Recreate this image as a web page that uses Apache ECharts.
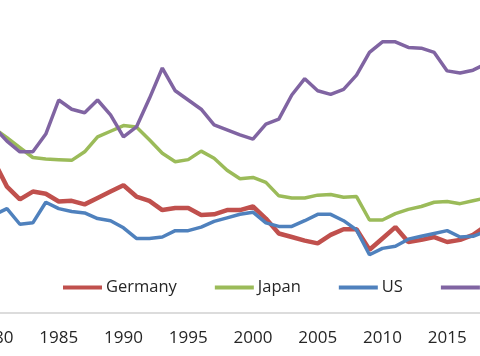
<!DOCTYPE html>
<html>
<head>
<meta charset="utf-8">
<script src="https://cdn.jsdelivr.net/npm/echarts@6/dist/echarts.min.js"></script>
<style>html,body{margin:0;padding:0;background:#fff}#c{width:480px;height:356px}</style>
</head>
<body>
<div id="c"></div>
<script>
const years = [];
for (let y = 1980; y <= 2018; y++) years.push(String(y));

const germany = [31.4,27.8,26.0,27.1,26.8,25.7,25.8,25.3,26.2,27.1,28.0,26.4,25.8,24.5,24.8,24.8,23.8,23.9,24.5,24.5,25.0,23.3,21.2,20.7,20.2,19.8,21.0,21.8,21.8,18.9,20.5,22.1,20.0,20.3,20.7,20.0,20.3,21.0,22.3];
const japan = [36.0,34.7,33.3,31.9,31.7,31.6,31.5,32.7,34.8,35.6,36.4,36.2,34.4,32.5,31.3,31.6,32.8,31.8,30.1,28.9,29.1,28.4,26.5,26.2,26.2,26.6,26.7,26.3,26.4,23.1,23.1,24.0,24.6,25.0,25.6,25.7,25.4,25.8,26.2];
const us = [23.8,24.7,22.5,22.7,25.6,24.7,24.3,24.1,23.3,23.0,22.0,20.5,20.5,20.7,21.6,21.6,22.1,22.9,23.4,23.9,24.2,22.7,22.2,22.2,23.0,23.9,23.9,23.0,21.7,18.2,19.1,19.4,20.4,20.8,21.2,21.6,20.7,20.8,21.5];
const china = [36.2,34.2,32.7,32.7,35.2,40.0,38.7,38.2,40.0,37.9,34.8,36.2,40.2,44.5,41.3,40.0,38.7,36.5,35.8,35.1,34.5,36.6,37.3,40.7,43.0,41.3,40.8,41.5,43.5,46.7,48.2,48.2,47.4,47.3,46.7,44.1,43.8,44.2,45.1];

const names = ['Germany', 'Japan', 'US', 'China'];
const colors = ['#c0504d', '#9bbb59', '#4f81bd', '#8064a2'];
const widths = [4.5, 3.5, 3.5, 3.5];
const dataSets = [germany, japan, us, china];

const chart = echarts.init(document.getElementById('c'), null, {renderer: 'canvas'});
const font = "'Open Sans', 'Liberation Sans', sans-serif";
chart.setOption({
  animation: false,
  backgroundColor: '#ffffff',
  grid: {left: -6, right: -6, top: 29, bottom: 43, containLabel: false, outerBoundsMode: 'none'},
  legend: {
    left: 63, top: 279, width: 800, padding: 0, orient: 'horizontal',
    icon: 'rect', itemWidth: 39, itemHeight: 4, itemGap: 38,
    textStyle: {fontFamily: font, fontSize: 16.5, color: '#262626', padding: [0,0,0,-1]},
    data: names
  },
  xAxis: {
    type: 'category', data: years, boundaryGap: false,
    axisLine: {lineStyle: {color: '#d0d0d0', width: 1.5}},
    axisTick: {show: false},
    axisLabel: {interval: 4, margin: 17, fontFamily: font, fontSize: 17, color: '#262626', hideOverlap: false}
  },
  yAxis: {type: 'value', min: 10, max: 50, show: false, splitLine: {show: false}},
  series: names.map((n, i) => ({
    name: n, type: 'line', data: dataSets[i], symbol: 'none', smooth: false,
    color: colors[i], lineStyle: {color: colors[i], width: widths[i]}
  }))
});
</script>
</body>
</html>
